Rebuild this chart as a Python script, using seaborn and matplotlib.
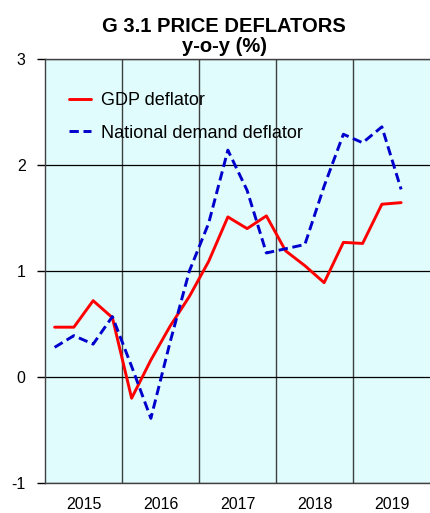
import numpy as np
import pandas as pd
import matplotlib
matplotlib.use("Agg")
import matplotlib.pyplot as plt
import seaborn as sns

# quarterly data, 2015Q1 .. 2019Q3
years = ["2015", "2016", "2017", "2018", "2019"]
gdp_deflator = [0.47, 0.47, 0.72, 0.56, -0.20, 0.16, 0.48, 0.76, 1.09, 1.51,
                1.40, 1.52, 1.19, 1.05, 0.89, 1.27, 1.26, 1.63, 1.645]
demand_deflator = [0.28, 0.39, 0.31, 0.57, 0.10, -0.39, 0.33, 1.00, 1.45, 2.14,
                   1.76, 1.17, 1.21, 1.25, 1.80, 2.29, 2.21, 2.36, 1.77]
series_names = ["GDP deflator", "National demand deflator"]

n = len(gdp_deflator)
df = pd.DataFrame({
    "q": list(range(n)) * 2,
    "value": gdp_deflator + demand_deflator,
    "series": [series_names[0]] * n + [series_names[1]] * n,
})

sns.set_style("white")
plt.rcParams["font.family"] = ["Liberation Sans", "DejaVu Sans"]
plt.rcParams["text.color"] = "black"
plt.rcParams["xtick.color"] = "black"
plt.rcParams["ytick.color"] = "black"
plt.rcParams["ytick.left"] = True
plt.rcParams["ytick.major.size"] = 6
plt.rcParams["ytick.major.width"] = 1.0

fig = plt.figure(figsize=(4.31, 5.13), dpi=100)
ax = fig.add_axes([45 / 431, 1 - 483 / 513, 385 / 431, 424 / 513])
ax.set_facecolor("#e0fcfc")

sns.lineplot(data=df, x="q", y="value", hue="series", style="series",
             palette={series_names[0]: "#ff0000", series_names[1]: "#0000cc"},
             dashes={series_names[0]: "", series_names[1]: (3.2, 1.6)},
             linewidth=2.1, ax=ax, legend=True)

ax.set_xlim(-0.5, 4 * len(years) - 0.5)
ax.set_ylim(-1, 3)
ax.set_yticks([-1, 0, 1, 2, 3])
ax.set_yticklabels(["-1", "0", "1", "2", "3"], fontsize=11.5)
ax.set_xticks([4 * i + 1.5 for i in range(len(years))])
ax.set_xticklabels(years, fontsize=11.5)
ax.set_xticks([4 * i + 3.5 for i in range(len(years) - 1)], minor=True)
ax.tick_params(axis="x", which="both", length=0, pad=10, labelcolor="black")
ax.tick_params(axis="y", which="major", left=True, length=6, width=1,
               color="black", pad=8, labelcolor="black")
ax.grid(axis="y", color="black", linewidth=0.9)
ax.grid(axis="x", which="minor", color="#404040", linewidth=1.0)
ax.grid(axis="x", which="major", visible=False)
ax.set_xlabel("")
ax.set_ylabel("")
for s in ax.spines.values():
    s.set_color("#404040")
    s.set_linewidth(1.0)
ax.spines["right"].set_visible(False)

leg = ax.legend(loc="upper left", bbox_to_anchor=(0.02, 0.96), frameon=False,
                fontsize=13, handlelength=1.2, handletextpad=0.55, labelspacing=0.85)
for t in leg.get_texts():
    t.set_color("black")

fig.text(0.52, 1 - 26 / 513, "G 3.1 PRICE DEFLATORS", ha="center", va="center",
         fontsize=14.5, fontweight="bold", color="black")
fig.text(0.52, 1 - 46 / 513, "y-o-y (%)", ha="center", va="center",
         fontsize=14.5, fontweight="bold", color="black")

fig.savefig("out.png", dpi=100)
